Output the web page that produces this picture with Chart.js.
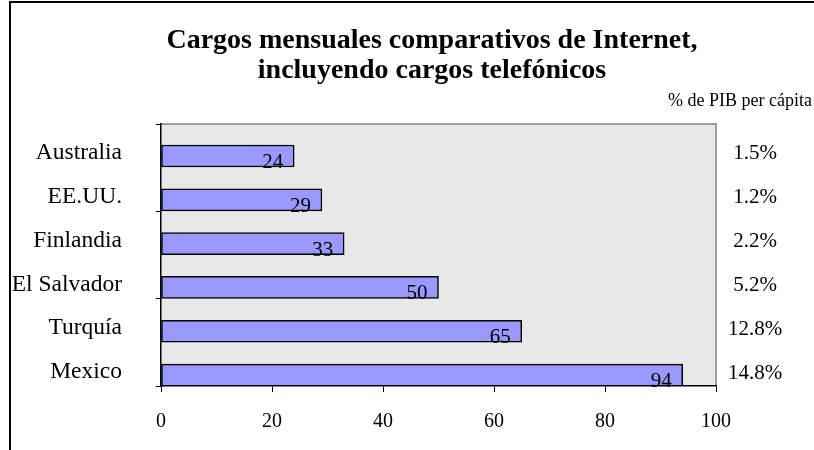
<!DOCTYPE html>
<html>
<head>
<meta charset="utf-8">
<script src="https://cdn.jsdelivr.net/npm/chart.js@4"></script>
<style>
  html, body { margin: 0; padding: 0; background: #fff; }
  #wrap { position: relative; width: 814px; height: 450px; overflow: hidden; }
  #frame { position: absolute; left: 9px; top: 1px; width: 900px; height: 500px;
           border-left: 2px solid #000; border-top: 2px solid #000; }
  canvas { position: absolute; left: 0; top: 0; }
</style>
</head>
<body>
<div id="wrap">
  <div id="frame"></div>
  <canvas id="c" width="814" height="450"></canvas>
</div>
<script>
const categories = ['Australia', 'EE.UU.', 'Finlandia', 'El Salvador', 'Turquía', 'Mexico'];
const cargos = [24, 29, 33, 50, 65, 94];
const pibPct = ['1.5%', '1.2%', '2.2%', '5.2%', '12.8%', '14.8%'];
const titleLines = ['Cargos mensuales comparativos de Internet,', 'incluyendo cargos telefónicos'];
const pctHeader = '% de PIB per cápita';

const SERIF = "'Liberation Serif', 'Times New Roman', serif";

// the original's bars sit low in the plot: first bar ~0.73 slot below the top,
// last bar almost touching the x axis
const Y_MIN = -0.73;
const Y_MAX = 5.25;

// gray plot background + thin gray frame (top/right)
const plotBg = {
  id: 'plotBg',
  beforeDraw(chart) {
    const {ctx, chartArea: a} = chart;
    ctx.save();
    ctx.fillStyle = '#e8e8e8';
    ctx.fillRect(a.left, a.top, a.right - a.left, a.bottom - a.top);
    ctx.strokeStyle = '#808080';
    ctx.lineWidth = 1.5;
    ctx.beginPath();
    ctx.moveTo(a.left, a.top);
    ctx.lineTo(a.right, a.top);
    ctx.lineTo(a.right, a.bottom);
    ctx.stroke();
    ctx.restore();
  }
};

// title (centred a bit right of the canvas middle, like the original) and the % header
const headings = {
  id: 'headings',
  afterDraw(chart) {
    const {ctx} = chart;
    ctx.save();
    ctx.fillStyle = '#000';
    ctx.textBaseline = 'middle';
    ctx.textAlign = 'center';
    ctx.font = 'bold 28px ' + SERIF;
    titleLines.forEach((t, i) => ctx.fillText(t, 432, 41 + i * 30));
    ctx.textAlign = 'right';
    ctx.font = '18px ' + SERIF;
    ctx.fillText(pctHeader, 812, 101);
    ctx.restore();
  }
};

// value labels at the inner end of each bar
const barValues = {
  id: 'barValues',
  afterDatasetsDraw(chart) {
    const {ctx} = chart;
    const meta = chart.getDatasetMeta(0);
    ctx.save();
    ctx.font = '21px ' + SERIF;
    ctx.fillStyle = '#000';
    ctx.textAlign = 'right';
    ctx.textBaseline = 'alphabetic';
    meta.data.forEach((bar, i) => {
      ctx.fillText(String(cargos[i]), bar.x - 11, bar.y + 12);
    });
    ctx.restore();
  }
};

const indexTicks = s => { s.ticks = categories.map((_, i) => ({value: i})); };

new Chart(document.getElementById('c'), {
  type: 'bar',
  data: {
    datasets: [{
      data: cargos.map((v, i) => ({x: v, y: i})),
      backgroundColor: '#9999ff',
      borderColor: '#000',
      borderWidth: 1.5,
      borderSkipped: false,
      barThickness: 22
    }]
  },
  options: {
    indexAxis: 'y',
    responsive: false,
    animation: false,
    layout: {padding: {left: 0, right: 2, top: 124, bottom: 3}},
    plugins: {
      legend: {display: false},
      tooltip: {enabled: false},
      title: {display: false}
    },
    scales: {
      x: {
        min: 0, max: 100,
        ticks: {stepSize: 20, color: '#000', padding: 18, font: {family: SERIF, size: 20}},
        grid: {drawOnChartArea: false, tickLength: 6, color: '#000'},
        border: {color: '#000', width: 1.5},
        afterFit(s) { s.height -= 5; }
      },
      y: {
        type: 'linear',
        reverse: true,
        offset: false,
        min: Y_MIN, max: Y_MAX,
        weight: 1,
        afterBuildTicks: indexTicks,
        grid: {display: false, drawTicks: false, offset: false},
        border: {display: false},
        ticks: {color: '#000', padding: 34, labelOffset: -3, font: {family: SERIF, size: 23.5},
                callback: v => categories[v]},
        afterFit(s) { s.width = 156; }
      },
      yTicks: {
        type: 'linear',
        position: 'left',
        weight: 0,
        offset: false,
        min: 0, max: 3,
        ticks: {display: false, stepSize: 1},
        grid: {drawOnChartArea: false, tickLength: 5, color: '#000', offset: false},
        border: {display: true, color: '#000', width: 1.5},
        afterFit(s) { s.width = 5; }
      },
      pct: {
        type: 'linear',
        position: 'right',
        reverse: true,
        offset: false,
        min: Y_MIN, max: Y_MAX,
        afterBuildTicks: indexTicks,
        grid: {display: false, drawTicks: false, offset: false},
        border: {display: false},
        ticks: {color: '#000', padding: 12, crossAlign: 'center', labelOffset: -2,
                font: {family: SERIF, size: 21}, callback: v => pibPct[v]},
        afterFit(s) { s.width = 96; }
      }
    }
  },
  plugins: [plotBg, barValues, headings]
});
</script>
</body>
</html>
